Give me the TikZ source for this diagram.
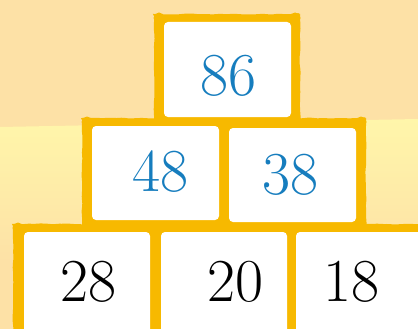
\documentclass[tikz,border=0pt]{standalone}
\usepackage{fontspec}
\usetikzlibrary{decorations.pathmorphing}
\definecolor{bgtop}{RGB}{253,225,166}
\definecolor{band}{RGB}{255,246,170}
\definecolor{orng}{RGB}{247,185,0}
\definecolor{numblue}{RGB}{22,125,190}
\begin{document}
\begin{tikzpicture}[x=1pt,y=-1pt,
  wobble/.style={decorate, decoration={random steps, segment length=5pt, amplitude=0.6pt}},
  frame/.style={fill=orng, wobble, rounded corners=2pt},
  blob/.style={fill=orng},
  cell/.style={fill=white, rounded corners=4pt, inner sep=0pt, draw=none},
  num/.style={inner sep=0pt, font=\fontsize{61}{61}\selectfont}]
\pgfmathsetseed{7}
\useasboundingbox (0,0) rectangle (418,329);
\clip (0,0) rectangle (418,329);
% background
\fill[bgtop] (0,0) rectangle (418,329);
\shade[top color=band, bottom color=bgtop] (0,127) -- (418,119) -- (418,262) -- (0,262) -- cycle;
% orange frames
\path[frame] (154,14) rectangle (300,122);
\path[frame] (82,118) rectangle (366,227);
\path[frame] (13,224) rectangle (430,340);
\foreach \p in {(159,18),(295,18),(87,122),(361,122),(18,228)}
  \fill[blob] \p circle (5.5pt);
% cells
\node[cell, minimum width=127pt, minimum height=95pt] (t) at (227.5,69.5) {};
\node[cell, minimum width=127pt, minimum height=94pt] (m1) at (155.5,173) {};
\node[cell, minimum width=127pt, minimum height=94pt] (m2) at (292.5,175) {};
\node[cell, minimum width=126pt, minimum height=108pt] (b1) at (87,286) {};
\node[cell, minimum width=126pt, minimum height=108pt] (b2) at (224,286) {};
\node[cell, minimum width=134pt, minimum height=108pt] (b3) at (363,286) {};
% numbers
\node[num, text=numblue] (n86) at (228,76) {86};
\node[num, text=numblue] (n48) at (160,172) {48};
\node[num, text=numblue] (n38) at (290,175) {38};
\node[num] (n28) at (88,282) {28};
\node[num] (n20) at (235,282) {20};
\node[num] (n18) at (351,282) {18};
\end{tikzpicture}
\end{document}
